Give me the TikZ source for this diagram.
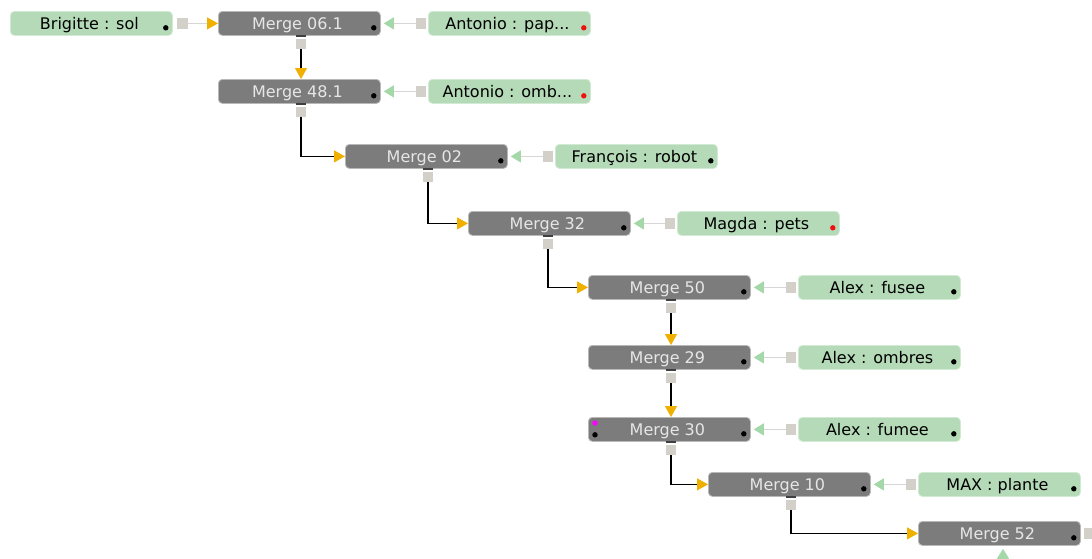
\documentclass[tikz,border=0pt]{standalone}
\usepackage{fontspec}
\setmainfont{DejaVu Sans}
\usetikzlibrary{arrows.meta,calc}
\definecolor{mergefill}{HTML}{7C7C7C}
\definecolor{mergeedge}{HTML}{B8B8B8}
\definecolor{mergetext}{HTML}{E6E6E6}
\definecolor{srcfill}{HTML}{B5DAB8}
\definecolor{srcedge}{HTML}{D2EAD4}
\definecolor{portgray}{HTML}{D3D0CA}
\definecolor{darkbar}{HTML}{404040}
\definecolor{tipyellow}{HTML}{F0B000}
\definecolor{tipgreen}{HTML}{A4D8A8}
\definecolor{wiregray}{HTML}{D6D6D6}
\definecolor{dotred}{HTML}{F01010}
\definecolor{dotmag}{HTML}{FF00FF}
\newcommand\sh[1]{\hspace*{-4pt}#1}
\tikzset{
  base/.style={rounded corners=4pt, minimum width=162pt, minimum height=24pt,
    inner sep=0pt, text height=11.5pt, text depth=0pt, anchor=north west,
    font=\fontsize{16}{16}\selectfont, line width=0.8pt},
  mergebox/.style={base, fill=mergefill, draw=mergeedge, text=mergetext},
  srcbox/.style={base, fill=srcfill, draw=srcedge, text=black},
  port/.style={fill=portgray, minimum size=10.5pt, inner sep=0pt, draw=none},
  mport/.style={port, append after command={([yshift=2.5pt]\tikzlastnode.north west) edge[draw=darkbar, line width=2pt] ([yshift=2.5pt]\tikzlastnode.north east)}},
  wire/.style={draw=black, line width=1.1pt, -{Triangle[length=11pt,width=12pt,color=tipyellow]}},
  feedy/.style={draw=wiregray, line width=1pt, -{Triangle[length=11pt,width=12pt,color=tipyellow]}},
  feedg/.style={draw=wiregray, line width=1pt, shorten >=3pt, -{Triangle[length=10pt,width=12pt,color=tipgreen]}},
}
\begin{document}
\begin{tikzpicture}[x=1pt,y=-1pt]
\clip (0,0) rectangle (1092,558);
\fill[white] (0,0) rectangle (1092,558);

% merge boxes
\node[mergebox] (m061) at (218,11) {\sh{Merge 06.1}};
\node[mergebox] (m481) at (218,79) {\sh{Merge 48.1}};
\node[mergebox] (m02)  at (345,144) {\sh{Merge 02}};
\node[mergebox] (m32)  at (468,211) {\sh{Merge 32}};
\node[mergebox] (m50)  at (588,275) {\sh{Merge 50}};
\node[mergebox] (m29)  at (588,345) {\sh{Merge 29}};
\node[mergebox] (m30)  at (588,417) {\sh{Merge 30}};
\node[mergebox] (m10)  at (708,472) {\sh{Merge 10}};
\node[mergebox] (m52)  at (918,521) {\sh{Merge 52}};

% source boxes
\node[srcbox] (brig) at (10,11)  {\sh{Brigitte : sol}};
\node[srcbox] (pap)  at (428,11) {\sh{Antonio : pap...}};
\node[srcbox] (omb)  at (428,79) {\sh{Antonio : omb...}};
\node[srcbox] (rob)  at (555,144) {\sh{François : robot}};
\node[srcbox] (pets) at (677,211) {\sh{Magda : pets}};
\node[srcbox] (fus)  at (798,275) {\sh{Alex : fusee}};
\node[srcbox] (ombr) at (798,345) {\sh{Alex : ombres}};
\node[srcbox] (fum)  at (798,417) {\sh{Alex : fumee}};
\node[srcbox] (pla)  at (918,472) {\sh{MAX : plante}};

% status dots
\foreach \n in {m061,m481,m02,m32,m50,m29,m30,m10,m52,brig,rob,fus,ombr,fum,pla}
  \fill[black] ($(\n.south east)+(-7,-8)$) circle (2.7);
\foreach \n in {pap,omb,pets}
  \fill[dotred] ($(\n.south east)+(-7,-8)$) circle (2.7);
\fill[dotmag] ($(m30.north west)+(7,6)$) circle (2.7);
\fill[black] ($(m30.south west)+(7,-7)$) circle (2.7);

% output ports of merges
\node[mport] (o061) at ($(m061.south west)+(83,8)$) {};
\node[mport] (o481) at ($(m481.south west)+(83,8)$) {};
\node[mport] (o02)  at ($(m02.south west)+(83,8)$) {};
\node[mport] (o32)  at ($(m32.south west)+(80,8)$) {};
\node[mport] (o50)  at ($(m50.south west)+(83,8)$) {};
\node[mport] (o29)  at ($(m29.south west)+(83,8)$) {};
\node[mport] (o30)  at ($(m30.south west)+(83,8)$) {};
\node[mport] (o10)  at ($(m10.south west)+(83,8)$) {};
\node[port] (o52) at ($(m52.east)+(8,0)$) {};

% output ports of sources
\node[port] (pbrig) at ($(brig.east)+(9.5,0)$) {};
\node[port] (ppap) at ($(pap.west)+(-7,0)$) {};
\node[port] (pomb) at ($(omb.west)+(-7,0)$) {};
\node[port] (prob) at ($(rob.west)+(-7,0)$) {};
\node[port] (ppets) at ($(pets.west)+(-7,0)$) {};
\node[port] (pfus) at ($(fus.west)+(-7,0)$) {};
\node[port] (pombr) at ($(ombr.west)+(-7,0)$) {};
\node[port] (pfum) at ($(fum.west)+(-7,0)$) {};
\node[port] (ppla) at ($(pla.west)+(-7,0)$) {};

% feeds from sources
\draw[feedy] (pbrig) -- (m061.west);
\draw[feedg] (ppap) -- (m061.east);
\draw[feedg] (pomb) -- (m481.east);
\draw[feedg] (prob) -- (m02.east);
\draw[feedg] (ppets) -- (m32.east);
\draw[feedg] (pfus) -- (m50.east);
\draw[feedg] (pombr) -- (m29.east);
\draw[feedg] (pfum) -- (m30.east);
\draw[feedg] (ppla) -- (m10.east);
\coordinate (in52) at (1003,585);
\draw[feedg] (in52) -- (in52 |- m52.south);

% chain of merges
\draw[wire] (o061) -- (o061 |- m481.north);
\draw[wire] (o481) |- (m02.west);
\draw[wire] (o02) |- (m32.west);
\draw[wire] (o32) |- (m50.west);
\draw[wire] (o50) -- (o50 |- m29.north);
\draw[wire] (o29) -- (o29 |- m30.north);
\draw[wire] (o30) |- (m10.west);
\draw[wire] (o10) |- (m52.west);
\end{tikzpicture}
\end{document}
